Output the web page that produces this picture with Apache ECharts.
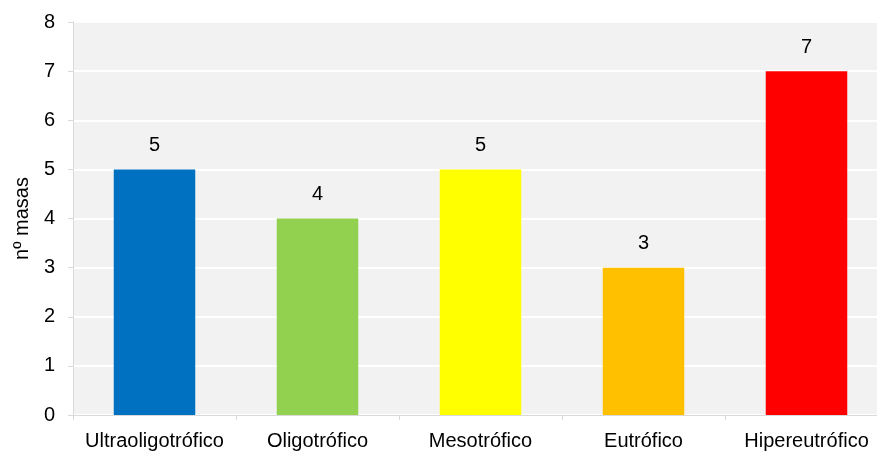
<!DOCTYPE html>
<html><head><meta charset="utf-8">
<script src="https://cdn.jsdelivr.net/npm/echarts@6/dist/echarts.min.js"></script>
<style>html,body{margin:0;padding:0;background:#fff;overflow:hidden}#c{width:877px;height:452px}</style>
</head><body><div id="c"></div>
<script>
const categories = ["Ultraoligotrófico","Oligotrófico","Mesotrófico","Eutrófico","Hipereutrófico"];
const values = [5,4,5,3,7];
const colors = ["#0070C0","#92D050","#FFFF00","#FFC000","#FF0000"];
const yTicks = [0,1,2,3,4,5,6,7,8];

const chart = echarts.init(document.getElementById('c'), null, {renderer:'canvas'});
const font = "'Liberation Sans', Arial, sans-serif";
chart.setOption({
  animation:false,
  grid:{left:73, top:22, height:393, width:815, show:true, backgroundColor:'#f2f2f2', borderWidth:0,
    outerBoundsMode:'none', containLabel:false},
  xAxis:{type:'category', data:categories, boundaryGap:true,
    axisLine:{show:true, lineStyle:{color:'#d9d9d9', width:1}},
    axisTick:{show:true, length:5, lineStyle:{color:'#d9d9d9'}},
    axisLabel:{color:'#000', fontSize:20, fontFamily:font, margin:16, interval:0, hideOverlap:false}},
  yAxis:{type:'value', min:0, max:8, interval:1,
    name:'nº masas', nameLocation:'middle', nameGap:41, nameRotate:90,
    nameTextStyle:{color:'#000', fontSize:20, fontFamily:font},
    axisLine:{show:true, lineStyle:{color:'#d9d9d9', width:1}},
    axisTick:{show:true, length:5, lineStyle:{color:'#d9d9d9'}},
    axisLabel:{color:'#000', fontSize:20, fontFamily:font, margin:18,
      formatter: v => yTicks.includes(v) ? String(v) : ''},
    splitLine:{show:true, lineStyle:{color:'#ffffff', width:2}}},
  series:[{type:'bar', barWidth:'50%',
    data: values.map((v,i)=>({value:v, itemStyle:{color:colors[i]}})),
    label:{show:true, position:'top', distance:14, color:'#000', fontSize:20, fontFamily:font}}]
});
</script></body></html>
